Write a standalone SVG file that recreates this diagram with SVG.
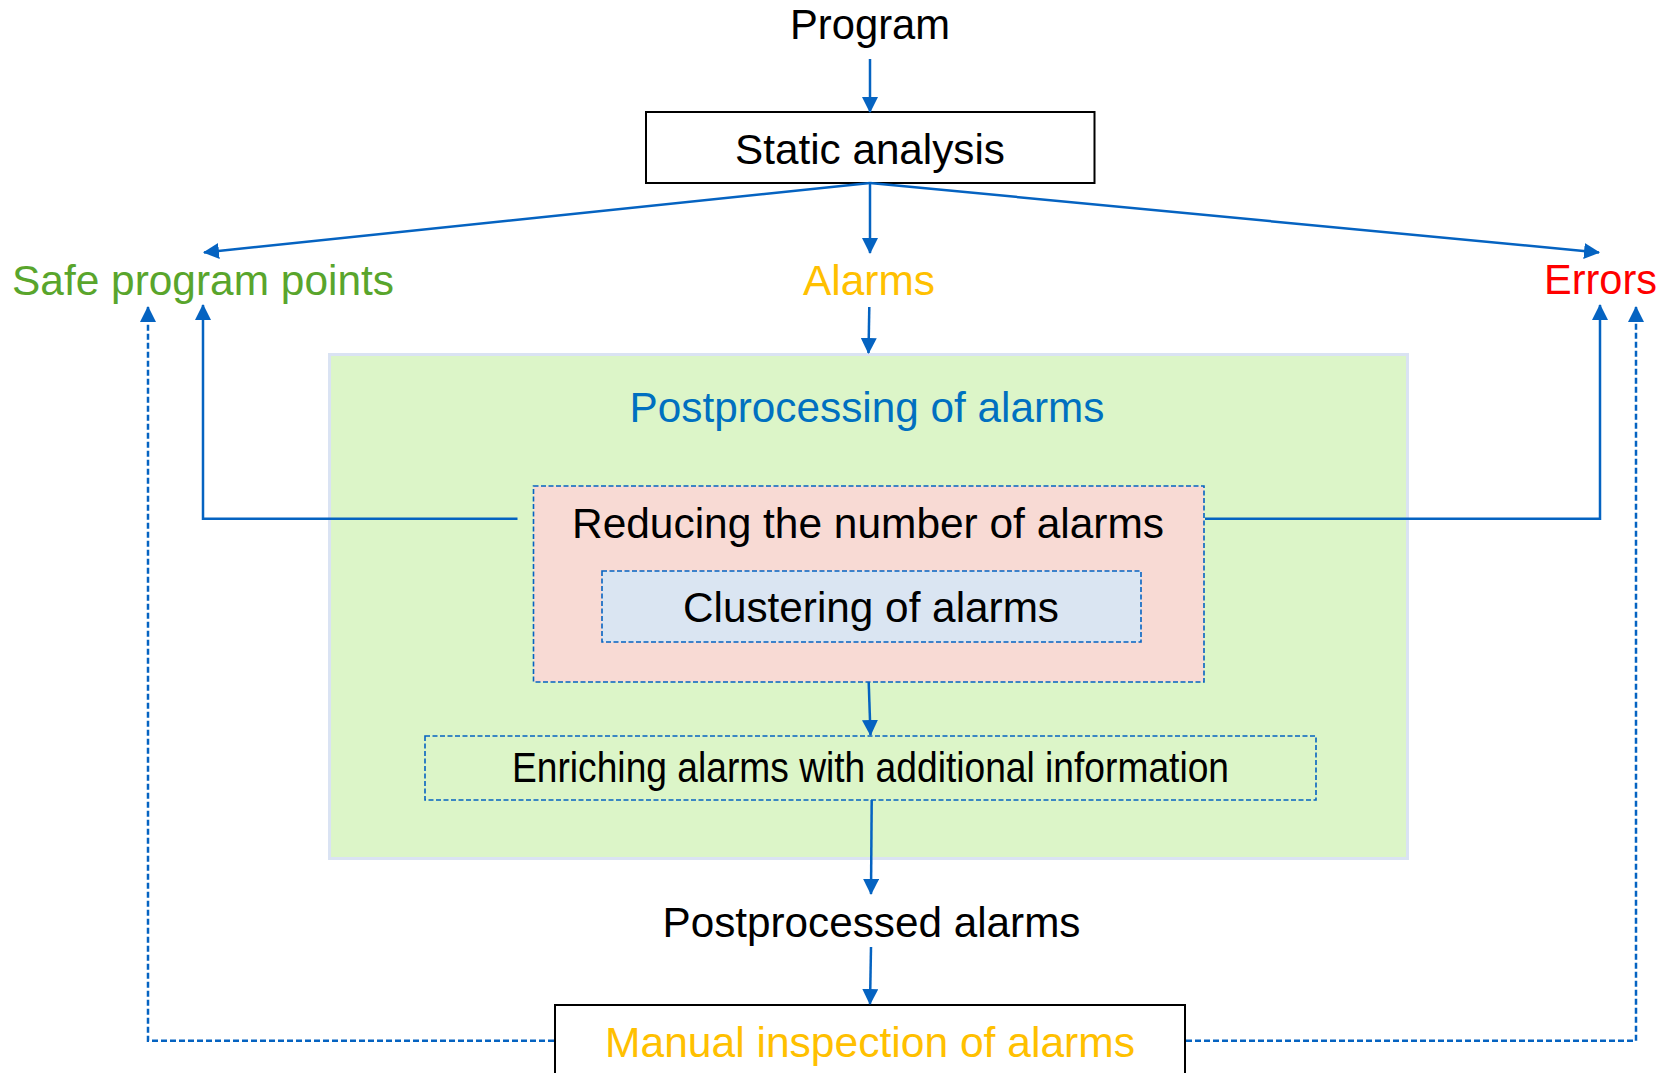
<svg xmlns="http://www.w3.org/2000/svg" width="1670" height="1073" viewBox="0 0 1670 1073">
<style>
text{font-family:"Liberation Sans",Arial,sans-serif;font-size:42px;text-anchor:middle;}
.blk{fill:#000000;}
.conn{stroke:#0563C1;stroke-width:2.5;fill:none;}
.dash{stroke:#0563C1;stroke-width:2.5;fill:none;stroke-dasharray:6,3;}
.dbox{stroke:#0563C1;stroke-width:1.6;stroke-dasharray:5,2.5;}
</style>
<defs>
<marker id="ah" viewBox="0 0 16 16" refX="15" refY="8" markerWidth="16" markerHeight="16" markerUnits="userSpaceOnUse" orient="auto">
<path d="M0,0 L16,8 L0,16 Z" fill="#0563C1"/>
</marker>
</defs>
<rect width="1670" height="1073" fill="#ffffff"/>

<g id="program"><text x="870" y="39" class="blk" font-size="37" textLength="160" lengthAdjust="spacingAndGlyphs">Program</text></g>

<g id="static-analysis">
<rect x="646" y="112" width="448.5" height="71" fill="#ffffff" stroke="#000000" stroke-width="2"/>
<text x="870" y="164" class="blk" textLength="270" lengthAdjust="spacingAndGlyphs">Static analysis</text>
</g>

<g id="safe-points"><text x="203" y="295" fill="#59A52C" textLength="382" lengthAdjust="spacingAndGlyphs">Safe program points</text></g>
<g id="alarms"><text x="869" y="295" fill="#FFC000" textLength="132" lengthAdjust="spacingAndGlyphs">Alarms</text></g>
<g id="errors"><text x="1600.5" y="294" fill="#FF0000" textLength="113" lengthAdjust="spacingAndGlyphs">Errors</text></g>

<g id="postprocessing">
<rect x="329.5" y="354.5" width="1078" height="504" fill="#DCF5C8" stroke="#DAE3F3" stroke-width="3"/>
<text x="867" y="421.5" fill="#0070C0" textLength="475" lengthAdjust="spacingAndGlyphs">Postprocessing of alarms</text>
</g>

<g id="reducing">
<rect x="533.5" y="486" width="670.5" height="196" fill="#F8DAD4" class="dbox"/>
<text x="868" y="537.5" class="blk" textLength="592" lengthAdjust="spacingAndGlyphs">Reducing the number of alarms</text>
</g>

<g id="clustering">
<rect x="602" y="571" width="539" height="71" fill="#DAE5F2" class="dbox"/>
<text x="871" y="621.5" class="blk" textLength="376" lengthAdjust="spacingAndGlyphs">Clustering of alarms</text>
</g>

<g id="enriching">
<rect x="425" y="736" width="891" height="64" fill="none" class="dbox"/>
<text x="870.5" y="781.5" class="blk" font-size="36" textLength="717" lengthAdjust="spacingAndGlyphs">Enriching alarms with additional information</text>
</g>

<g id="postprocessed"><text x="871.5" y="936.5" class="blk" textLength="418" lengthAdjust="spacingAndGlyphs">Postprocessed alarms</text></g>

<g id="manual">
<rect x="555" y="1005" width="630" height="80" fill="#ffffff" stroke="#000000" stroke-width="2"/>
<text x="870" y="1056.5" fill="#FFC000" textLength="530" lengthAdjust="spacingAndGlyphs">Manual inspection of alarms</text>
</g>

<g id="connectors">
<line class="conn" x1="870" y1="59" x2="870" y2="112" marker-end="url(#ah)"/>
<line class="conn" x1="870" y1="183" x2="204" y2="252.5" marker-end="url(#ah)"/>
<line class="conn" x1="870" y1="183" x2="870" y2="253" marker-end="url(#ah)"/>
<line class="conn" x1="870" y1="183" x2="1599" y2="252.5" marker-end="url(#ah)"/>
<line class="conn" x1="869.3" y1="307" x2="868.5" y2="353" marker-end="url(#ah)"/>
<polyline class="conn" points="517.5,518.7 203,518.7 203,305" marker-end="url(#ah)"/>
<polyline class="conn" points="1205,518.7 1600,518.7 1600,305" marker-end="url(#ah)"/>
<line class="conn" x1="868.7" y1="682" x2="870.5" y2="735" marker-end="url(#ah)"/>
<line class="conn" x1="871.7" y1="800" x2="871" y2="894" marker-end="url(#ah)"/>
<line class="conn" x1="871" y1="947" x2="870" y2="1004" marker-end="url(#ah)"/>
<polyline class="dash" points="554,1040.7 148,1040.7 148,307" marker-end="url(#ah)"/>
<polyline class="dash" points="1186,1040.7 1636,1040.7 1636,307" marker-end="url(#ah)"/>
</g>
</svg>
